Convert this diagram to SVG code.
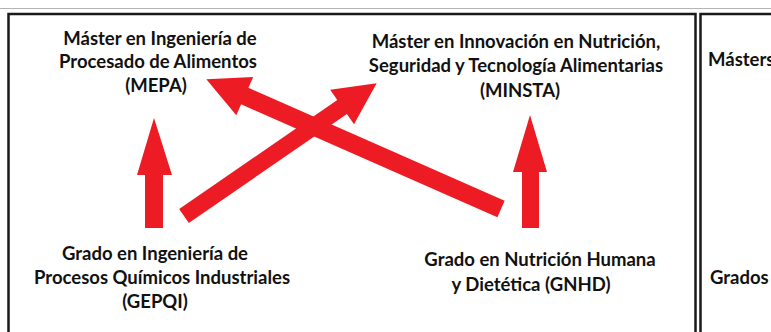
<svg xmlns="http://www.w3.org/2000/svg" width="771" height="332" viewBox="0 0 771 332">
<style>
.t{font-family:Lato,"Liberation Sans",sans-serif;font-weight:700;font-size:18.5px;fill:#111;text-anchor:middle}
.box{fill:none;stroke:#1a1a1a;stroke-width:2.5}
.arr{fill:#ED1C24}
</style>
<rect width="771" height="332" fill="#fff"/>
<line x1="0" y1="8.5" x2="771" y2="8.5" stroke="#b4b4b4" stroke-width="1"/>
<rect class="box" x="8.5" y="14" width="687" height="340"/>
<rect class="box" x="700.5" y="14" width="100" height="340"/>
<g id="connectors">
<polygon class="arr" points="145,228 163,228 163,175 172,175 154,118 137,175 145,175"/>
<polygon class="arr" points="522,228 539,228 539,172 547,172 530,115 513,172 522,172"/>
<polygon class="arr" transform="translate(184,216) rotate(-34.57)" points="0,-8.5 192,-8.5 192,-21 234,0 192,21 192,8.5 0,8.5"/>
<polygon class="arr" transform="translate(501,209) rotate(-156.22)" points="0,-9 280,-9 280,-21 322,0 280,21 280,9 0,9"/>
</g>
<g id="mepa">
<text class="t" x="160" y="45">Máster en Ingeniería de</text>
<text class="t" x="158" y="68">Procesado de Alimentos</text>
<text class="t" x="156" y="92">(MEPA)</text>
</g>
<g id="minsta">
<text class="t" x="516" y="48">Máster en Innovación en Nutrición,</text>
<text class="t" x="516" y="72">Seguridad y Tecnología Alimentarias</text>
<text class="t" x="520" y="97">(MINSTA)</text>
</g>
<g id="gepqi">
<text class="t" x="155" y="260">Grado en Ingeniería de</text>
<text class="t" x="162" y="284">Procesos Químicos Industriales</text>
<text class="t" x="155" y="308">(GEPQI)</text>
</g>
<g id="gnhd">
<text class="t" x="540" y="266">Grado en Nutrición Humana</text>
<text class="t" x="531" y="291">y Dietética (GNHD)</text>
</g>
<g id="labels">
<text class="t" x="708" y="66" style="text-anchor:start">Másters</text>
<text class="t" x="710" y="284" style="text-anchor:start">Grados</text>
</g>
</svg>
